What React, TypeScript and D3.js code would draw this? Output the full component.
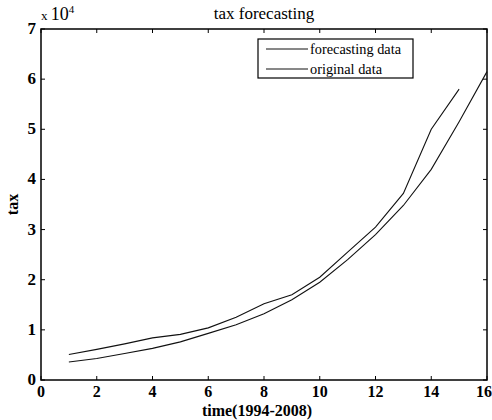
import { useEffect, useRef } from 'react';
import * as d3 from 'd3';

// x index: 1 = 1994
const originalX = [1, 2, 3, 4, 5, 6, 7, 8, 9, 10, 11, 12, 13, 14, 15];
const originalY = [0.51, 0.61, 0.72, 0.84, 0.91, 1.04, 1.25, 1.52, 1.7, 2.05, 2.55, 3.05, 3.72, 5.0, 5.8];
const forecastX = [1, 2, 3, 4, 5, 6, 7, 8, 9, 10, 11, 12, 13, 14, 15, 16];
const forecastY = [0.36, 0.43, 0.53, 0.63, 0.76, 0.93, 1.1, 1.32, 1.6, 1.95, 2.4, 2.9, 3.48, 4.2, 5.15, 6.15];
const xTicks = [0, 2, 4, 6, 8, 10, 12, 14, 16];
const yTicks = [0, 1, 2, 3, 4, 5, 6, 7];
const legendLabels = ['forecasting data', 'original data'];

const FONT = '"Liberation Serif", "Times New Roman", serif';

const App = () => {
  const ref = useRef<SVGSVGElement | null>(null);

  useEffect(() => {
    const svg = d3.select(ref.current);
    svg.selectAll('*').remove();

    const margin = { top: 29, right: 5, bottom: 40, left: 41 };
    const width = 492 - margin.left - margin.right;
    const height = 420 - margin.top - margin.bottom;

    svg.append('rect').attr('width', 492).attr('height', 420).attr('fill', '#fff');

    const g = svg.append('g').attr('transform', `translate(${margin.left},${margin.top})`);

    const x = d3.scaleLinear().domain([0, 16]).range([0, width]);
    const y = d3.scaleLinear().domain([0, 7]).range([height, 0]);

    // ticks (inward, all four sides)
    const tl = 4;
    xTicks.forEach((t) => {
      g.append('line').attr('x1', x(t)).attr('x2', x(t)).attr('y1', height).attr('y2', height - tl).attr('stroke', '#000');
      g.append('line').attr('x1', x(t)).attr('x2', x(t)).attr('y1', 0).attr('y2', tl).attr('stroke', '#000');
      g.append('text')
        .attr('x', t === 16 ? x(t) - 3 : x(t))
        .attr('y', height + 17)
        .attr('text-anchor', 'middle')
        .style('font-family', FONT)
        .style('font-weight', 'bold')
        .style('font-size', '16px')
        .text(t);
    });
    yTicks.forEach((t) => {
      g.append('line').attr('x1', 0).attr('x2', tl).attr('y1', y(t)).attr('y2', y(t)).attr('stroke', '#000');
      g.append('line').attr('x1', width).attr('x2', width - tl).attr('y1', y(t)).attr('y2', y(t)).attr('stroke', '#000');
      g.append('text')
        .attr('x', -5)
        .attr('y', y(t) + 5)
        .attr('text-anchor', 'end')
        .style('font-family', FONT)
        .style('font-weight', 'bold')
        .style('font-size', '17px')
        .text(t);
    });

    // box
    g.append('rect')
      .attr('width', width)
      .attr('height', height)
      .attr('fill', 'none')
      .attr('stroke', '#000')
      .attr('stroke-width', 1.5);

    const line = d3
      .line<[number, number]>()
      .x((d) => x(d[0]))
      .y((d) => y(d[1]));

    const series = [
      originalX.map((v, i) => [v, originalY[i]] as [number, number]),
      forecastX.map((v, i) => [v, forecastY[i]] as [number, number]),
    ];
    series.forEach((s) => {
      g.append('path').datum(s).attr('d', line).attr('fill', 'none').attr('stroke', '#111').attr('stroke-width', 1.1);
    });

    // legend
    const lg = g.append('g').attr('transform', `translate(${258 - margin.left},${39 - margin.top})`);
    lg.append('rect').attr('width', 155).attr('height', 39).attr('fill', '#fff').attr('stroke', '#000').attr('stroke-width', 1.2);
    legendLabels.forEach((lab, i) => {
      const ly = 10 + i * 20;
      lg.append('line').attr('x1', 8).attr('x2', 50).attr('y1', ly).attr('y2', ly).attr('stroke', '#111');
      lg.append('text')
        .attr('x', 52)
        .attr('y', ly + 5)
        .attr('textLength', i === 0 ? 91 : 72)
        .attr('lengthAdjust', 'spacingAndGlyphs')
        .style('font-family', FONT)
        .style('font-size', '15px')
        .text(lab);
    });

    // title and labels
    svg.append('text')
      .attr('x', margin.left + width / 2)
      .attr('y', 19)
      .attr('text-anchor', 'middle')
      .style('font-family', FONT)
      .style('font-size', '17px')
      .text('tax forecasting');

    const exp = svg.append('text').attr('x', 41).attr('y', 20).style('font-family', FONT);
    exp.append('tspan').style('font-size', '13px').text('x ');
    exp.append('tspan').style('font-size', '18px').text('10');
    exp.append('tspan').attr('dy', -7).style('font-size', '11px').text('4');

    svg.append('text')
      .attr('x', margin.left + width / 2 - 7)
      .attr('y', 416)
      .attr('text-anchor', 'middle')
      .style('font-family', FONT)
      .style('font-weight', 'bold')
      .style('font-size', '16px')
      .text('time(1994-2008)');

    svg.append('text')
      .attr('transform', `translate(18,${margin.top + height / 2}) rotate(-90)`)
      .attr('text-anchor', 'middle')
      .style('font-family', FONT)
      .style('font-weight', 'bold')
      .style('font-size', '16px')
      .text('tax');
  }, []);

  return <svg ref={ref} width={492} height={420} style={{ position: 'absolute', left: 0, top: 0 }} />;
};

export default App;
